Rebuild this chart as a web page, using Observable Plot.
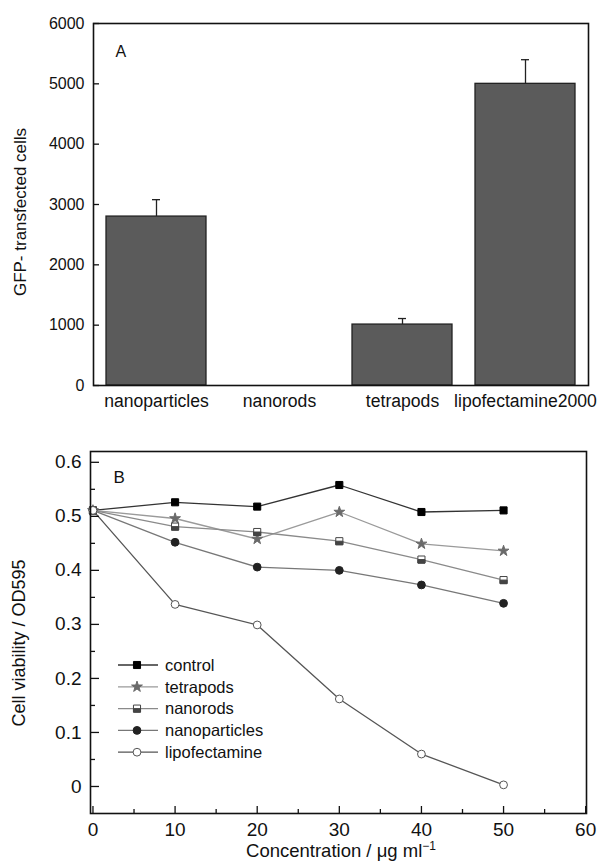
<!DOCTYPE html>
<html><head><meta charset="utf-8">
<script src="https://cdn.jsdelivr.net/npm/d3@7"></script>
<script src="https://cdn.jsdelivr.net/npm/@observablehq/plot@0.6"></script>
<style>
body{margin:0;background:#fff;}
#chart{width:599px;}
#chart svg{display:block;}
</style></head><body><div id="chart"></div>
<script>
// ---- Panel A data ----
const categories = ["nanoparticles", "nanorods", "tetrapods", "lipofectamine2000"];
const transfected = [2800, 0, 1010, 5000];
const transfectedErr = [280, 0, 100, 400];
const gfpTicks = [0, 1000, 2000, 3000, 4000, 5000, 6000];

// ---- Panel B data ----
const concentrations = [0, 10, 20, 30, 40, 50];
const seriesNames = ["control", "tetrapods", "nanorods", "nanoparticles", "lipofectamine"];
const control       = [0.511, 0.526, 0.518, 0.558, 0.508, 0.511];
const tetrapods     = [0.511, 0.496, 0.458, 0.508, 0.449, 0.436];
const nanorods      = [0.511, 0.481, 0.471, 0.454, 0.420, 0.382];
const nanoparticles = [0.511, 0.452, 0.406, 0.400, 0.373, 0.339];
const lipofectamine = [0.511, 0.337, 0.299, 0.162, 0.060, 0.003];
const xMajor = [0, 10, 20, 30, 40, 50, 60];
const xMinor = [5, 15, 25, 35, 45, 55];
const yMajor = [0, 0.1, 0.2, 0.3, 0.4, 0.5, 0.6];
const yMinor = [0.05, 0.15, 0.25, 0.35, 0.45, 0.55];

const FONT = "Liberation Sans, Arial, Helvetica, sans-serif";
const container = document.getElementById("chart");

// ---------- Panel A ----------
const barData = categories.map((c, i) => ({category: c, value: transfected[i], top: transfected[i] + transfectedErr[i]}));
const errData = barData.filter(d => d.top > d.value);

const plotA = Plot.plot({
  width: 599, height: 420,
  marginTop: 23, marginBottom: 35, marginLeft: 93, marginRight: 11,
  style: {fontFamily: FONT, color: "#111", background: "#fff", overflow: "visible"},
  x: {domain: categories, paddingInner: 0.19, paddingOuter: 0.095, label: null},
  y: {domain: [0, 6000], label: null},
  marks: [
    Plot.ruleX(errData, {x: "category", y1: "value", y2: "top", stroke: "#222", strokeWidth: 1.3}),
    Plot.tickY(errData, {x: "category", y: "top", stroke: "#222", strokeWidth: 1.3, insetLeft: 46, insetRight: 46}),
    Plot.barY(barData.filter(d => d.value > 0), {x: "category", y: "value", fill: "#5b5b5b", stroke: "#222", strokeWidth: 1.3}),
    Plot.axisY({ticks: gfpTicks, tickSize: 6, dx: 6, fill: "none", stroke: "#111", strokeWidth: 1.3, label: null}),
    Plot.axisY({ticks: gfpTicks, tickSize: 0, tickPadding: 9, fontSize: 16, label: null, tickFormat: d => String(d)}),
    Plot.axisX({tickSize: 0, tickPadding: 9, fontSize: 17.6, label: null}),
    Plot.frame({stroke: "#111", strokeWidth: 1.6}),
    Plot.text(["A"], {text: d => d, frameAnchor: "top-left", dx: 22, dy: 22, lineAnchor: "top", fontSize: 16, fill: "#111"})
  ]
});
container.appendChild(plotA);

d3.select(plotA).append("text")
  .attr("transform", "translate(26,212) rotate(-90)")
  .attr("text-anchor", "middle")
  .attr("font-family", FONT).attr("font-size", 17).attr("fill", "#111")
  .text("GFP- transfected cells");

// ---------- Panel B ----------
const seriesValues = [control, tetrapods, nanorods, nanoparticles, lipofectamine];
const halfBottom = {
  draw(ctx, size) {
    const w = Math.sqrt(size) / 2;
    ctx.moveTo(-w, 0); ctx.lineTo(w, 0); ctx.lineTo(w, w); ctx.lineTo(-w, w); ctx.closePath();
  }
};
const styles = {
  control:       {line: "#333", symbol: "square", fill: "#000", stroke: "#000", r: 4},
  tetrapods:     {line: "#9a9a9a", symbol: "star", fill: "#6a6a6a", stroke: "#6a6a6a", r: 3.4},
  nanorods:      {line: "#8a8a8a", symbol: "square", fill: "#fff", stroke: "#444", r: 4, half: true},
  nanoparticles: {line: "#777", symbol: "circle", fill: "#222", stroke: "#222", r: 3.9},
  lipofectamine: {line: "#555", symbol: "circle", fill: "#fff", stroke: "#555", r: 3.9}
};
const table = [];
seriesNames.forEach((s, k) => concentrations.forEach((c, i) => table.push({series: s, conc: c, value: seriesValues[k][i]})));

const lineMarks = seriesNames.map(s => Plot.line(table.filter(d => d.series === s), {x: "conc", y: "value", stroke: styles[s].line, strokeWidth: 1.3}));
const dotMarks = seriesNames.flatMap(s => {
  const st = styles[s];
  const data = table.filter(d => d.series === s);
  const m = [Plot.dot(data, {x: "conc", y: "value", symbol: st.symbol, r: st.r, fill: st.fill, stroke: st.stroke, strokeWidth: 1})];
  if (st.half) m.push(Plot.dot(data, {x: "conc", y: "value", symbol: halfBottom, r: st.r, fill: st.stroke, stroke: st.stroke, strokeWidth: 1}));
  return m;
});

const plotB = Plot.plot({
  width: 599, height: 448,
  marginTop: 31, marginBottom: 55, marginLeft: 90, marginRight: 13,
  style: {fontFamily: FONT, color: "#111", background: "#fff", overflow: "visible"},
  x: {domain: [-0.3, 60.1], label: null},
  y: {domain: [-0.05, 0.62], label: null},
  marks: [
    ...lineMarks,
    ...dotMarks,
    Plot.axisX({ticks: xMajor, tickSize: 7, dy: -7, fill: "none", strokeWidth: 1.3, label: null}),
    Plot.axisX({ticks: xMinor, tickSize: 4, dy: -4, fill: "none", strokeWidth: 1.3, label: null}),
    Plot.axisX({ticks: xMajor, tickSize: 0, tickPadding: 9, fontSize: 19, label: null, tickFormat: d => String(d)}),
    Plot.axisY({ticks: yMajor, tickSize: 9, dx: 9, fill: "none", strokeWidth: 1.3, label: null}),
    Plot.axisY({ticks: yMinor, tickSize: 5, dx: 5, fill: "none", strokeWidth: 1.3, label: null}),
    Plot.axisY({ticks: yMajor, tickSize: 0, tickPadding: 9, fontSize: 19, label: null, tickFormat: d => String(+d.toFixed(2))}),
    Plot.frame({stroke: "#111", strokeWidth: 1.6}),
    Plot.text(["B"], {text: d => d, frameAnchor: "top-left", dx: 23, dy: 19, lineAnchor: "top", fontSize: 17, fill: "#111"})
  ]
});
container.appendChild(plotB);

const svgB = d3.select(plotB);
svgB.append("text")
  .attr("transform", "translate(24.5,223) rotate(-90)")
  .attr("text-anchor", "middle")
  .attr("font-family", FONT).attr("font-size", 18).attr("fill", "#111")
  .text("Cell viability / OD595");

const xl = svgB.append("text")
  .attr("x", 341).attr("y", 857 - 420)
  .attr("text-anchor", "middle")
  .attr("font-family", FONT).attr("font-size", 18.5).attr("fill", "#111");
xl.append("tspan").text("Concentration / μg ml");
xl.append("tspan").attr("font-size", 12).attr("dy", -7).text("−1");

// Legend
const legend = svgB.append("g").attr("font-family", FONT).attr("font-size", 16.5).attr("fill", "#111").attr("text-anchor", "start");
seriesNames.forEach((s, i) => {
  const st = styles[s];
  const cy = 665 - 420 + i * 21.8;
  const g = legend.append("g").attr("transform", `translate(0,${cy})`);
  g.append("line").attr("x1", 118).attr("x2", 158).attr("y1", 0).attr("y2", 0).attr("stroke", st.line).attr("stroke-width", 1.3);
  const sym = st.symbol === "square" ? d3.symbolSquare : st.symbol === "star" ? d3.symbolStar : d3.symbolCircle;
  const size = Math.PI * st.r * st.r;
  g.append("path").attr("transform", "translate(137,0)").attr("d", d3.symbol(sym, size)())
    .attr("fill", st.fill).attr("stroke", st.stroke).attr("stroke-width", 1);
  if (st.half) g.append("path").attr("transform", "translate(137,0)").attr("d", d3.symbol(halfBottom, size)())
    .attr("fill", st.stroke).attr("stroke", st.stroke).attr("stroke-width", 1);
  g.append("text").attr("x", 165).attr("dy", "0.35em").attr("text-anchor", "start").text(s);
});
</script>
</body></html>
